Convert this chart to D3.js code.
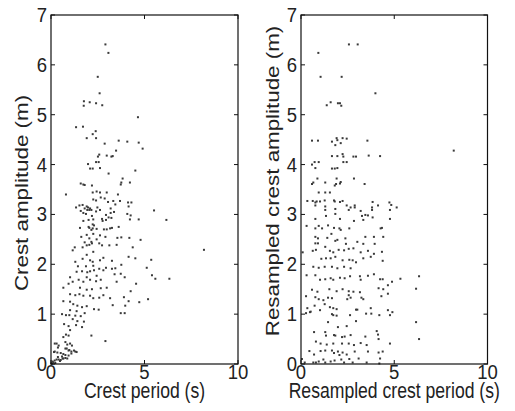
<!DOCTYPE html>
<html>
<head>
<meta charset="utf-8">
<script src="https://cdn.jsdelivr.net/npm/d3@7"></script>
<style>
  body { margin: 0; background: #fff; }
  svg text { font-family: "Liberation Sans", Arial, sans-serif; fill: #222; }
</style>
</head>
<body>
<svg id="chart" width="515" height="411"></svg>
<script>
// axis ranges and ticks
const xDomain = [0, 10];
const yDomain = [0, 7];
const xTicks = [0, 5, 10];
const yTicks = [0, 1, 2, 3, 4, 5, 6, 7];

// left panel: crest period (s), crest amplitude (m)
const crestPoints = [
  [2.91,6.41],[3.07,6.24],[2.50,5.76],[2.60,5.43],[1.76,5.27],[2.07,5.25],[2.41,5.23],[1.75,5.18],[2.74,5.19],
  [4.65,4.95],[1.34,4.75],[1.71,4.76],[2.39,4.67],[2.23,4.61],
  [1.91,4.53],[2.41,4.53],[2.87,4.42],[3.62,4.48],[4.08,4.46],[4.69,4.44],[4.90,4.32],[3.48,4.28],[2.58,4.20],
  [2.51,4.16],[2.98,4.18],[3.23,4.16],[3.30,4.17],[1.98,4.01],[2.41,4.05],[2.55,4.05],[2.09,3.92],[2.23,3.92],
  [2.62,3.93],[3.08,3.82],[4.51,3.88],[3.83,3.72],[3.76,3.64],[4.22,3.64],[1.59,3.62],[1.73,3.60],[1.80,3.59],
  [2.19,3.58],[0.80,3.40],[3.73,3.60],[2.23,3.44],[2.44,3.46],[2.62,3.44],[2.98,3.44],[3.58,3.40],[2.26,3.30],
  [2.41,3.28],[2.66,3.34],[2.87,3.32],[3.33,3.27],[3.69,3.27],[3.05,3.25],[1.69,3.19],[1.52,3.18],[1.91,3.16],
  [1.98,3.14],[1.80,3.12],[2.09,3.12],[1.34,3.14],[1.94,3.09],[2.05,3.09],[2.16,3.09],[2.48,3.14],[2.62,3.09],
  [3.19,3.12],[3.44,3.20],[4.12,3.24],[4.30,3.24],[4.15,3.16],[1.59,3.07],[1.73,3.03],[1.87,3.01],[2.41,3.06],
  [2.19,2.97],[2.94,2.99],[3.19,3.03],[3.37,3.05],[4.08,3.01],[4.26,2.98],[1.73,2.87],[2.01,2.89],[2.26,2.90],
  [2.73,2.91],[3.08,2.94],[2.76,2.87],[3.23,2.93],[2.94,2.89],[4.69,2.90],[4.22,2.90],[3.62,2.75],[2.23,2.80],
  [2.30,2.78],[2.01,2.75],[2.05,2.73],[2.23,2.72],[1.55,2.73],[2.16,2.69],[2.44,2.71],[2.98,2.70],[3.16,2.72],
  [3.26,2.73],[2.83,2.70],[1.91,2.59],[2.26,2.61],[2.62,2.58],[2.91,2.55],[3.55,2.53],[3.76,2.54],[4.19,2.53],
  [4.79,2.49],[1.62,2.55],[2.05,2.52],[2.44,2.50],[2.16,2.45],[1.80,2.44],[2.19,2.42],[2.58,2.42],[2.73,2.38],
  [3.12,2.38],[1.91,2.38],[2.05,2.39],[3.51,2.39],[4.37,2.34],[1.27,2.34],[1.69,2.34],
  [5.51,3.08],[6.17,2.89],[8.18,2.29],[5.36,2.09],[5.40,1.78],[5.58,1.71],[6.33,1.71],[5.19,1.30],
  [1.16,2.28],[4.15,2.15],[4.51,2.12],[5.12,1.93],[3.26,2.07],[2.80,2.13],[2.26,2.25],[1.91,2.19],[1.69,2.11],
  [1.30,2.05],[2.09,2.08],[2.23,2.05],[2.62,2.08],[1.44,1.96],[1.87,1.96],[2.26,1.97],[2.58,1.91],[2.94,1.93],
  [2.80,1.88],[3.26,1.91],[3.44,1.92],[3.76,1.99],[3.94,1.74],[4.55,1.61],[1.66,1.86],[1.94,1.84],[2.09,1.86],
  [2.30,1.88],[1.37,1.85],[2.44,1.77],[1.91,1.74],[1.48,1.69],[1.73,1.65],[2.09,1.69],[2.41,1.66],[2.66,1.69],
  [3.40,1.80],[3.73,1.81],[1.02,1.74],[0.66,1.53],[0.94,1.61],[1.16,1.65],[1.55,1.53],[1.91,1.49],[2.19,1.50],
  [2.66,1.52],[2.98,1.53],[3.51,1.65],[4.26,1.46],[1.02,1.40],[1.30,1.38],[1.52,1.40],[1.73,1.37],[2.09,1.37],
  [2.26,1.32],[2.58,1.33],[2.80,1.38],[3.16,1.32],[3.90,1.34],[4.15,1.26],[4.72,1.24],[3.30,1.18],
  [3.97,1.17],[0.66,1.26],[1.02,1.25],[1.19,1.20],[1.41,1.17],[1.66,1.14],[1.91,1.16],[2.30,1.10],[2.55,1.09],
  [1.02,1.08],[1.37,1.06],[1.80,1.02],[3.73,1.02],[3.94,1.02],[0.59,1.00],[0.80,0.98],[0.98,0.98],[1.30,0.97],
  [1.59,0.96],[1.16,0.90],[1.41,0.86],[1.76,0.85],[0.70,0.80],[0.94,0.76],[1.34,0.78],[1.66,0.74],[1.02,0.68],
  [0.80,0.59],[0.66,0.54],[0.94,0.57],[2.16,0.57],[2.91,0.46],[0.30,0.41],[0.41,0.37],[0.87,0.39],[1.12,0.37],
  [0.77,0.31],[0.94,0.27],[1.09,0.25],[1.30,0.25],[0.20,0.25],[0.52,0.22],[0.77,0.18],[0.37,0.14],[0.62,0.11],
  [0.87,0.11],[0.30,0.09],[0.48,0.06],[0.12,0.03],[0.23,0.02],[0.05,0.01],
  [0.20,0.41],[0.37,0.33],[0.77,0.44],[1.02,0.41],[0.84,0.31],[0.98,0.28],[1.23,0.27],[1.37,0.24],
  [0.16,0.24],[0.34,0.23],[0.66,0.20],[0.94,0.17],[1.09,0.21],[0.59,0.15],[0.77,0.12],[0.41,0.09],
  [0.20,0.07],[0.09,0.05],[0.52,0.08],[0.66,0.11],[0.02,0.01]
];

// right panel: resampled crest period (s), resampled crest amplitude (m)
const resampledPoints = [
  [2.57,6.41],[3.04,6.41],[0.93,6.24],[1.05,5.76],[2.18,5.76],[3.99,5.43],[1.59,5.25],[1.38,5.19],[1.98,5.23],
  [2.09,5.23],[2.16,5.18],[8.19,4.28],
  [0.59,4.48],[0.91,4.48],[1.66,4.46],[1.91,4.53],[1.95,4.49],[2.23,4.53],[2.45,4.52],[2.13,4.43],[1.84,4.39],
  [3.56,4.48],[1.66,4.17],[1.95,4.17],[2.23,4.21],[2.27,4.16],[2.81,4.16],[2.95,4.16],[3.63,4.18],[4.24,4.17],
  [0.73,4.05],[0.95,4.05],[0.59,4.00],[0.77,3.93],[2.27,4.05],[2.45,4.05],[1.66,3.92],[1.81,3.92],[1.95,3.93],
  [0.88,3.72],[1.91,3.72],[2.84,3.72],[0.66,3.64],[0.59,3.61],[1.30,3.64],[1.88,3.61],[1.81,3.58],[2.09,3.62],
  [2.13,3.65],[3.41,3.61],[0.95,3.44],[1.30,3.44],[1.55,3.44],[0.34,3.27],[0.63,3.27],[0.84,3.26],[0.77,3.24],
  [1.02,3.26],[1.27,3.28],[1.77,3.28],[1.81,3.26],[2.09,3.25],[2.23,3.27],[2.45,3.18],[2.66,3.14],[2.88,3.18],
  [2.88,3.14],[3.84,3.25],[4.13,3.18],[3.81,3.14],[0.77,3.18],[1.30,3.16],[1.30,3.09],[1.84,3.11],[2.56,3.09],
  [3.20,3.07],[3.81,3.09],[4.74,3.24],[4.84,3.19],[5.13,3.14],[4.77,3.09],[0.77,2.91],[1.34,2.97],[1.84,3.01],
  [2.09,2.91],[3.27,2.97],[3.45,2.99],[3.59,2.98],[3.84,2.94],[4.77,2.91],[2.84,2.87],[3.34,2.89],[0.30,2.77],
  [0.77,2.72],[0.95,2.77],[1.13,2.72],[1.45,2.78],[1.77,2.73],[2.06,2.72],[2.13,2.69],[2.59,2.72],[4.27,2.72],
  [4.34,2.73],[0.77,2.55],[0.91,2.52],[1.63,2.61],[1.41,2.53],[1.84,2.47],[1.95,2.49],[2.38,2.52],[3.45,2.55],
  [3.91,2.55],[4.41,2.55],[0.77,2.42],[0.91,2.42],[2.41,2.41],[3.02,2.45],[3.34,2.41],[3.95,2.41],
  [0.09,2.24],[0.63,2.27],[0.80,2.29],[1.30,2.35],[1.55,2.27],[1.73,2.24],[2.02,2.29],[2.31,2.28],[2.56,2.31],
  [2.81,2.32],[3.20,2.24],[3.59,2.27],[3.91,2.21],[4.34,2.25],[1.09,2.11],[1.34,2.12],[1.59,2.12],[1.84,2.15],
  [2.23,2.08],[2.59,2.09],[2.77,2.08],[2.95,2.04],[3.34,2.12],[3.74,2.15],[4.38,2.07],[0.66,1.95],[0.95,1.93],
  [1.27,1.95],[1.66,1.95],[1.95,1.92],[2.31,1.95],[2.66,1.92],[0.30,1.78],[0.77,1.78],[1.02,1.69],[1.30,1.70],
  [1.59,1.72],[1.73,1.69],[2.09,1.73],[2.34,1.72],[2.63,1.76],[3.16,1.76],[3.20,1.69],[3.59,1.77],[3.91,1.80],
  [4.24,1.70],[4.38,1.70],[4.66,1.58],[4.88,1.65],[5.33,1.71],[6.33,1.76],[6.17,1.51],[0.59,1.49],[0.88,1.45],
  [1.52,1.50],[1.91,1.46],[2.23,1.50],[2.56,1.46],[2.81,1.45],[3.16,1.44],[4.16,1.52],[4.41,1.50],[0.27,1.36],
  [0.77,1.34],[0.95,1.30],[1.20,1.28],[1.45,1.33],[1.66,1.32],[2.56,1.38],[2.66,1.33],[2.48,1.30],[3.24,1.33],
  [3.34,1.30],[4.31,1.36],[4.66,1.41],[0.34,1.12],[0.52,1.05],[0.73,1.17],[1.02,1.08],[1.27,1.20],[1.55,1.14],
  [1.73,1.12],[1.91,1.10],[2.95,1.09],[3.02,1.09],[3.74,1.12],[4.20,0.98],[3.77,1.01],[4.66,1.08],[4.77,0.98],
  [4.90,1.04],[0.27,1.02],[0.48,1.04],[1.66,1.00],[1.73,0.98],[1.91,0.97],[2.63,0.98],[1.45,0.84],[1.98,0.74],
  [2.45,0.76],[2.95,0.86],[3.49,1.01],[6.17,0.84],[4.06,0.66],[4.13,0.59],[0.70,0.64],[1.30,0.64],[1.34,0.57],
  [1.77,0.58],[1.84,0.57],[2.20,0.54],[2.34,0.55],[2.66,0.58],[3.45,0.55],[4.16,0.50],[6.33,0.50],[4.77,0.41],
  [0.80,0.45],[1.05,0.41],[1.38,0.39],[1.73,0.41],[2.20,0.41],[2.56,0.41],[2.84,0.38],[3.20,0.42],[3.52,0.38],
  [0.45,0.26],[0.70,0.19],[1.05,0.26],[1.30,0.27],[1.66,0.27],[1.77,0.22],[1.98,0.25],[2.06,0.18],[2.23,0.23],
  [2.45,0.19],[2.88,0.25],[3.59,0.25],[4.16,0.23],[4.38,0.25],[0.05,0.10],[0.20,0.03],[0.66,0.03],[0.80,0.03],
  [0.95,0.05],[1.20,0.09],[1.30,0.03],[1.59,0.05],[1.80,0.07],[2.16,0.09],[2.31,0.03],[2.59,0.10],[2.77,0.03],
  [3.52,0.03],[3.09,0.11],[4.24,0.11],[4.20,0.01]
];

const svg = d3.select("#chart");
const plotTop = 15, plotBottom = 364;
const labelStretch = 1.27; // axis labels look taller than wide in the picture

function drawPanel(points, left, right, xLabel, yLabel, yLabelX, yLabelMid) {
  const x = d3.scaleLinear().domain(xDomain).range([left, right]);
  const y = d3.scaleLinear().domain(yDomain).range([plotBottom, plotTop]);
  const g = svg.append("g");

  g.append("g").selectAll("rect")
    .data(points)
    .enter()
    .append("rect")
    .attr("x", d => x(d[0]) - 1)
    .attr("y", d => y(d[1]) - 1)
    .attr("width", 2)
    .attr("height", 2)
    .attr("fill", "#3a3a3a");

  // box with inward ticks, like matlab
  g.append("rect")
    .attr("x", left).attr("y", plotTop)
    .attr("width", right - left).attr("height", plotBottom - plotTop)
    .attr("fill", "none").attr("stroke", "#111").attr("stroke-width", 1.2);

  const tl = 4;
  xTicks.forEach(t => {
    g.append("line").attr("x1", x(t)).attr("x2", x(t)).attr("y1", plotBottom).attr("y2", plotBottom - tl)
      .attr("stroke", "#111");
    g.append("line").attr("x1", x(t)).attr("x2", x(t)).attr("y1", plotTop).attr("y2", plotTop + tl)
      .attr("stroke", "#111");
    g.append("text")
      .attr("transform", `translate(${x(t)},${plotBottom + 15}) scale(1,1.05)`)
      .attr("text-anchor", "middle")
      .style("font-size", "18.5px")
      .text(t);
  });
  yTicks.forEach(t => {
    g.append("line").attr("x1", left).attr("x2", left + tl).attr("y1", y(t)).attr("y2", y(t))
      .attr("stroke", "#111");
    g.append("line").attr("x1", right).attr("x2", right - tl).attr("y1", y(t)).attr("y2", y(t))
      .attr("stroke", "#111");
    g.append("text")
      .attr("transform", `translate(${left - 4},${y(t)}) scale(1,1.05)`)
      .attr("text-anchor", "end")
      .attr("dy", "0.36em")
      .style("font-size", "18.5px")
      .text(t);
  });

  g.append("text")
    .attr("transform", `translate(${(left + right) / 2},${plotBottom + 33.5}) scale(1,${labelStretch})`)
    .attr("text-anchor", "middle")
    .style("font-size", "17.6px")
    .text(xLabel);

  g.append("text")
    .attr("transform", `translate(${yLabelX},${yLabelMid}) scale(1,${labelStretch}) rotate(-90)`)
    .attr("text-anchor", "middle")
    .style("font-size", "17.6px")
    .text(yLabel);
}

drawPanel(crestPoints, 51, 238, "Crest period (s)", "Crest amplitude (m)", 28, 193);
drawPanel(resampledPoints, 301, 487.5, "Resampled crest period (s)", "Resampled crest amplitude (m)", 279, 181);
</script>
</body>
</html>
